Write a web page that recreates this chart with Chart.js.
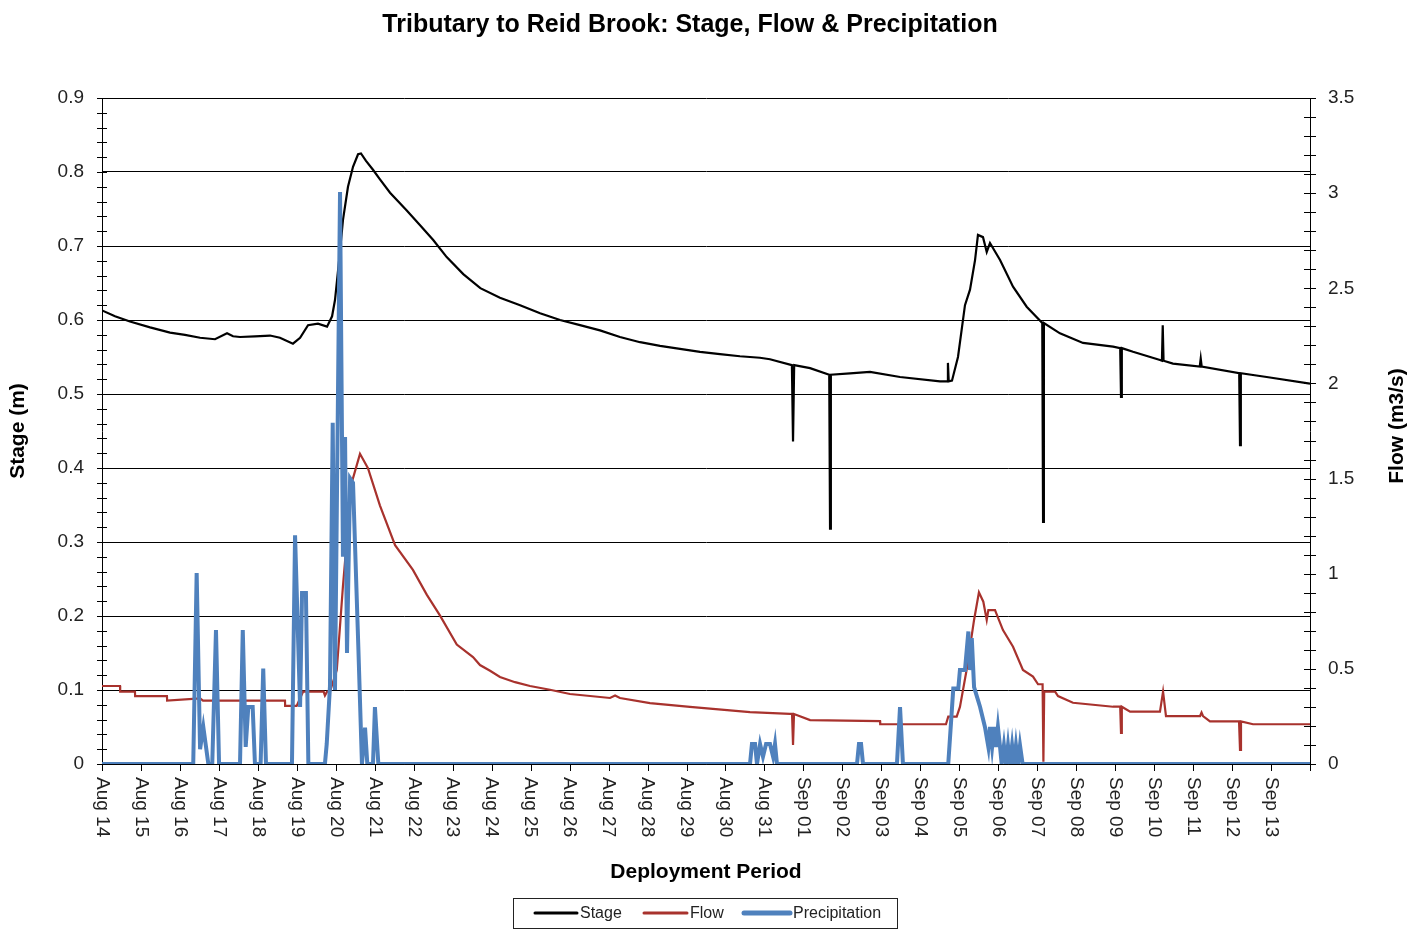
<!DOCTYPE html>
<html>
<head>
<meta charset="utf-8">
<title>Tributary to Reid Brook</title>
<script src="https://cdn.jsdelivr.net/npm/chart.js@4.4.1/dist/chart.umd.min.js"></script>
<style>
  body { margin: 0; background: #fff; }
  #wrap { width: 1423px; height: 929px; }
</style>
</head>
<body>
<div id="wrap"><canvas id="chart"></canvas></div>
<script>
// x values are hours since Aug 14 00:00
var dayLabels = ['Aug 14','Aug 15','Aug 16','Aug 17','Aug 18','Aug 19','Aug 20','Aug 21','Aug 22','Aug 23',
  'Aug 24','Aug 25','Aug 26','Aug 27','Aug 28','Aug 29','Aug 30','Aug 31','Sep 01','Sep 02','Sep 03',
  'Sep 04','Sep 05','Sep 06','Sep 07','Sep 08','Sep 09','Sep 10','Sep 11','Sep 12','Sep 13'];

// Stage (m) - left axis
var stageTime = [0, 8, 17.2, 29.6, 41.9, 51.1, 60.4, 69.6, 77, 80.7, 85, 94.2, 103.5, 109.6, 117.6, 122,
  126.9, 133, 138.6, 141.7, 143.5, 146, 148.4, 151.5, 154.6, 157.7, 159.5, 162.6, 166.9, 171.2, 177.4,
  187.7, 195.9, 204, 212.3, 222.5, 233, 245.1, 257.5, 269.8, 282.1, 294.4, 306.7, 319, 331.4, 343.7, 356, 368.3,
  380.6, 392.9, 405.2, 411.4, 424.9, 425.6, 426.3, 436.1, 447.9, 448.4, 448.9, 460.7, 473, 491.5,
  516.1, 520.5, 521, 521.5, 523.5, 527.2, 531.5, 534.6, 537.7, 539.5, 542.6, 544.9, 546.9, 553.1,
  561.1, 569.5, 579.1, 579.6, 580.1, 590, 604.2, 622.7, 627.1, 627.6, 628.1, 635, 651.6, 652.8, 653.3,
  653.8, 659.6, 676.1, 676.7, 677.3, 700.4, 700.9, 701.4, 717.3, 744];
var stageValue = [0.613, 0.605, 0.598, 0.590, 0.583, 0.580, 0.576, 0.574, 0.582, 0.578, 0.577, 0.578,
  0.579, 0.576, 0.568, 0.576, 0.593, 0.595, 0.591, 0.605, 0.627, 0.680, 0.735, 0.780, 0.807, 0.824,
  0.825, 0.815, 0.803, 0.790, 0.772, 0.748, 0.728, 0.708, 0.685, 0.662, 0.643, 0.630, 0.620, 0.609, 0.600, 0.593,
  0.586, 0.577, 0.570, 0.565, 0.561, 0.557, 0.554, 0.551, 0.549, 0.547, 0.539, 0.436, 0.539, 0.535,
  0.526, 0.318, 0.526, 0.528, 0.530, 0.523, 0.517, 0.517, 0.542, 0.517, 0.518, 0.550, 0.620, 0.641,
  0.681, 0.715, 0.712, 0.692, 0.704, 0.681, 0.645, 0.618, 0.596, 0.327, 0.596, 0.582, 0.569, 0.564,
  0.562, 0.496, 0.562, 0.557, 0.546, 0.545, 0.593, 0.545, 0.541, 0.537, 0.548, 0.537, 0.528, 0.431,
  0.528, 0.523, 0.514];

// Flow (m3/s) - right axis
var flowTime = [0, 11.1, 11.2, 20.3, 20.4, 40, 40.1, 60.4, 62.2, 112.7, 112.8, 119.9, 123.8, 136.5,
  137.3, 138.6, 140.4, 144.6, 148.4, 153.8, 158.9, 163.8, 171.2, 180.5, 191.5, 200, 208.2, 218.5,
  228.5, 232.8, 239, 245.1, 254.4, 263.6, 275.9, 288.2, 312.9, 316, 319, 337.5, 362.1, 399.1, 423.7,
  425, 425.6, 426.2, 436.1, 479.2, 479.3, 519.8, 521.2, 526.4, 528.4, 532.5, 537.1, 540.1, 542.8,
  544.9, 545.9, 550, 554.9, 561.1, 567.2, 573.4, 576.5, 579.3, 579.8, 580.3, 587, 588.8, 598, 622.7,
  627.1, 627.6, 628.1, 633.2, 651.6, 653.5, 655.3, 676.3, 677.2, 678.1, 682.4, 700.3, 700.9, 701.5,
  708.9, 744];
var flowValue = [0.41, 0.41, 0.38, 0.38, 0.357, 0.357, 0.333, 0.345, 0.333, 0.333, 0.305, 0.305, 0.38,
  0.38, 0.36, 0.38, 0.38, 0.494, 0.935, 1.478, 1.63, 1.555, 1.358, 1.15, 1.02, 0.89, 0.78, 0.628,
  0.562, 0.52, 0.49, 0.457, 0.43, 0.41, 0.39, 0.368, 0.347, 0.36, 0.347, 0.32, 0.30, 0.273, 0.263,
  0.263, 0.10, 0.263, 0.231, 0.225, 0.209, 0.209, 0.249, 0.249, 0.30, 0.494, 0.757, 0.902, 0.853,
  0.757, 0.809, 0.809, 0.704, 0.616, 0.494, 0.459, 0.419, 0.419, 0.012, 0.38, 0.38, 0.357, 0.322,
  0.301, 0.301, 0.163, 0.301, 0.275, 0.275, 0.38, 0.252, 0.252, 0.27, 0.252, 0.224, 0.224, 0.074,
  0.224, 0.209, 0.209];

// Precipitation - drawn against left axis
var rainTime = [0, 56.2, 58.3, 60.4, 62.4, 65.5, 67.9, 70.2, 72.1, 85, 86.7, 88.5, 90.1, 92.8, 94.2,
  97.7, 99.3, 101, 117, 118.9, 122, 123.2, 125.6, 127.1, 137.3, 138.4, 140.4, 142.1, 143.5, 146.6,
  148.4, 149.7, 150.9, 152.8, 154.6, 157.9, 160.1, 162, 163.4, 166.9, 168.1, 170.2, 399.1, 400.3,
  402.2, 403.4, 405.3, 407.1, 409, 411.4, 413.3, 414.5, 415.7, 465, 466.2, 467.5, 468.7, 489.6, 491.5,
  493.3, 521.2, 524.3, 527.4, 528.4, 531.5, 533.6, 534.6, 535.7, 537.1, 540.8, 543.8, 545.9, 546.9,
  548.2, 549.4, 550.6, 551.8, 553.1, 554.1, 555.5, 556.8, 558, 559.2, 560.5, 561.7, 562.9, 564.2,
  565.4, 567, 744];
var rainValue = [0, 0, 0.258, 0.02, 0.05, 0, 0, 0.181, 0, 0, 0.181, 0.023, 0.077, 0.077, 0, 0, 0.129, 0,
  0, 0.309, 0.077, 0.231, 0.231, 0, 0, 0.027, 0.105, 0.461, 0.1, 0.773, 0.28, 0.442, 0.15, 0.386,
  0.38, 0.156, 0, 0.049, 0, 0, 0.077, 0, 0, 0.027, 0.027, 0, 0.027, 0.01, 0.027, 0.027, 0.01, 0.027,
  0, 0, 0.027, 0.027, 0, 0, 0.077, 0, 0, 0.102, 0.102, 0.127, 0.127, 0.179, 0.127, 0.17, 0.104, 0.077,
  0.05, 0.023, 0.05, 0.023, 0.05, 0.023, 0.05, 0.023, 0, 0.025, 0, 0.025, 0, 0.025, 0, 0.025, 0,
  0.025, 0, 0];

function pairs(t, v) {
  return t.map(function(h, i) { return { x: h, y: v[i] }; });
}

var FONT = "'Liberation Sans', Arial, sans-serif";
Chart.defaults.font.family = FONT;
Chart.defaults.color = '#222';

var stageColor = '#000000', flowColor = '#A8322D', rainColor = '#4F81BD';

// titles, tick marks, rotated day labels and boxed legend
var extras = {
  id: 'extras',
  afterDraw: function(chart) {
    var ctx = chart.ctx, area = chart.chartArea;
    var x = chart.scales.x, y = chart.scales.y, y1 = chart.scales.y1;
    var i, px, py;
    ctx.save();

    ctx.strokeStyle = '#000';
    ctx.lineWidth = 1;
    ctx.beginPath();
    for (i = 0; i <= 45; i++) {
      py = Math.round(y.getPixelForValue(i * 0.02)) + 0.5;
      ctx.moveTo(area.left - 5, py); ctx.lineTo(area.left + 5, py);
    }
    for (i = 0; i <= 35; i++) {
      py = Math.round(y1.getPixelForValue(i * 0.1)) + 0.5;
      ctx.moveTo(area.right - 6, py); ctx.lineTo(area.right + 6, py);
    }
    for (i = 0; i <= dayLabels.length; i++) {
      px = Math.round(x.getPixelForValue(i * 24)) + 0.5;
      ctx.moveTo(px, area.bottom); ctx.lineTo(px, area.bottom + 7);
    }
    ctx.stroke();

    // day labels read top to bottom
    ctx.fillStyle = '#222';
    ctx.font = '19px ' + FONT;
    ctx.textAlign = 'left';
    ctx.textBaseline = 'middle';
    dayLabels.forEach(function(lab, k) {
      ctx.save();
      ctx.translate(x.getPixelForValue(k * 24), area.bottom + 13);
      ctx.rotate(Math.PI / 2);
      ctx.fillText(lab, 0, 0);
      ctx.restore();
    });

    // chart title
    ctx.fillStyle = '#000';
    ctx.textAlign = 'center';
    ctx.font = 'bold 25px ' + FONT;
    ctx.fillText('Tributary to Reid Brook: Stage, Flow & Precipitation', 690, 25);

    // right axis title, bottom to top
    ctx.save();
    ctx.translate(1397, 426);
    ctx.rotate(-Math.PI / 2);
    ctx.font = 'bold 21px ' + FONT;
    ctx.fillText('Flow (m3/s)', 0, 0);
    ctx.restore();

    // legend box
    ctx.strokeStyle = '#222';
    ctx.lineWidth = 1;
    ctx.strokeRect(513.5, 898.5, 384, 30);
    var items = [
      { text: 'Stage', color: stageColor, w: 3, x0: 535, x1: 577 },
      { text: 'Flow', color: flowColor, w: 3, x0: 644, x1: 687 },
      { text: 'Precipitation', color: rainColor, w: 5, x0: 744, x1: 790 }
    ];
    ctx.font = '16px ' + FONT;
    ctx.textAlign = 'left';
    ctx.fillStyle = '#222';
    items.forEach(function(it) {
      ctx.beginPath();
      ctx.strokeStyle = it.color;
      ctx.lineWidth = it.w;
      ctx.lineCap = 'round';
      ctx.moveTo(it.x0, 913); ctx.lineTo(it.x1, 913);
      ctx.stroke();
      ctx.fillText(it.text, it.x1 + 3, 914);
    });
    ctx.restore();
  }
};

new Chart(document.getElementById('chart'), {
  type: 'line',
  data: {
    datasets: [
      { label: 'Stage', data: pairs(stageTime, stageValue), yAxisID: 'y', order: 3,
        borderColor: stageColor, borderWidth: 2.2, pointRadius: 0, tension: 0 },
      { label: 'Flow', data: pairs(flowTime, flowValue), yAxisID: 'y1', order: 2,
        borderColor: flowColor, borderWidth: 2.2, pointRadius: 0, tension: 0 },
      { label: 'Precipitation', data: pairs(rainTime, rainValue), yAxisID: 'y', order: 1,
        borderColor: rainColor, borderWidth: 4, pointRadius: 0, tension: 0 }
    ]
  },
  options: {
    responsive: true,
    maintainAspectRatio: false,
    animation: false,
    events: [],
    layout: { padding: { top: 98, left: 0, right: 0, bottom: 0 } },
    plugins: { legend: { display: false }, title: { display: false }, tooltip: { enabled: false } },
    scales: {
      x: {
        type: 'linear', min: 0, max: 744,
        ticks: { display: false, stepSize: 24 },
        grid: { display: true, drawOnChartArea: false, drawTicks: false },
        border: { display: true, color: '#000', width: 1 },
        title: { display: true, text: 'Deployment Period', color: '#000',
          font: { size: 21, weight: 'bold' }, padding: { top: 0, bottom: 44 } },
        afterFit: function(s) { s.height = 165; }
      },
      y: {
        position: 'left', min: 0, max: 0.9,
        ticks: { stepSize: 0.1, padding: 18, font: { size: 19 }, color: '#222' },
        grid: { color: '#000', lineWidth: 1, drawTicks: false },
        border: { display: true, color: '#000', width: 1 },
        title: { display: true, text: 'Stage (m)', color: '#000',
          font: { size: 21, weight: 'bold' }, padding: { top: 6, bottom: 0 } },
        afterFit: function(s) { s.width = 102; }
      },
      y1: {
        position: 'right', min: 0, max: 3.5,
        ticks: { stepSize: 0.5, padding: 18, font: { size: 19 }, color: '#222',
          callback: function(v) { return String(v); } },
        grid: { drawOnChartArea: false, drawTicks: false },
        border: { display: true, color: '#000', width: 1 },
        afterFit: function(s) { s.width = 113; }
      }
    }
  },
  plugins: [extras]
});
</script>
</body>
</html>
